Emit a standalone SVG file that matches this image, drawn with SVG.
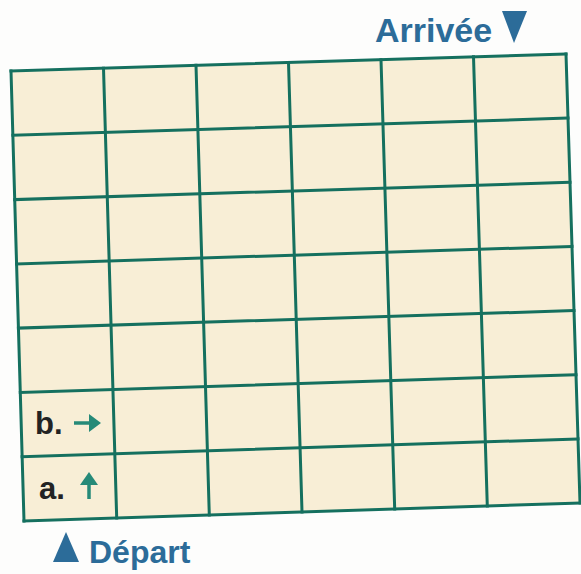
<svg xmlns="http://www.w3.org/2000/svg" width="581" height="574" viewBox="0 0 581 574">
<style>
.g{stroke:#15705f;stroke-width:3;fill:none;stroke-linecap:square}
.blue{fill:#2c6c99;font-family:"Liberation Sans",Arial,sans-serif;font-weight:bold}
.lab{fill:#232323;font-family:"Liberation Sans",Arial,sans-serif;font-weight:bold;font-size:31px}
.arr{stroke:#268a78;stroke-width:3.5;fill:none}
.arrh{fill:#268a78}
</style>
<rect width="581" height="574" fill="#fdfdfc"/>
<polygon points="11,71 566,54 580,503 24,521" fill="#f8eed6"/>
<g id="grid" class="g">
<path d="M11,71 L24,521 M103.5,68.2 L116.7,518 M196,65.3 L209.3,515 M288.5,62.5 L302,512 M381,59.7 L394.7,509 M473.5,56.8 L487.3,506 M566,54 L580,503"/>
<path d="M11,71 L566,54 M12.9,135.3 L568,118.1 M14.7,199.6 L570,182.3 M16.6,263.9 L572,246.4 M18.4,328.1 L574,310.6 M20.3,392.4 L576,374.7 M22.1,456.7 L578,438.9 M24,521 L580,503"/>
</g>
<g id="arrivee">
<text class="blue" x="375" y="42" font-size="34">Arrivée</text>
<polygon points="502,11 527,11 514,43" fill="#2c6c99"/>
</g>
<g id="depart">
<polygon points="53,562 79,562 66,532" fill="#2c6c99"/>
<text class="blue" x="89" y="563" font-size="32">Départ</text>
</g>
<g id="b">
<text class="lab" x="35" y="434">b.</text>
<path class="arr" d="M74,423 L91,423"/>
<polygon class="arrh" points="89,414 101,423 89,432"/>
</g>
<g id="a">
<text class="lab" x="39" y="499">a.</text>
<path class="arr" d="M89,499 L89,482"/>
<polygon class="arrh" points="80,485 89,472 98,485"/>
</g>
</svg>
